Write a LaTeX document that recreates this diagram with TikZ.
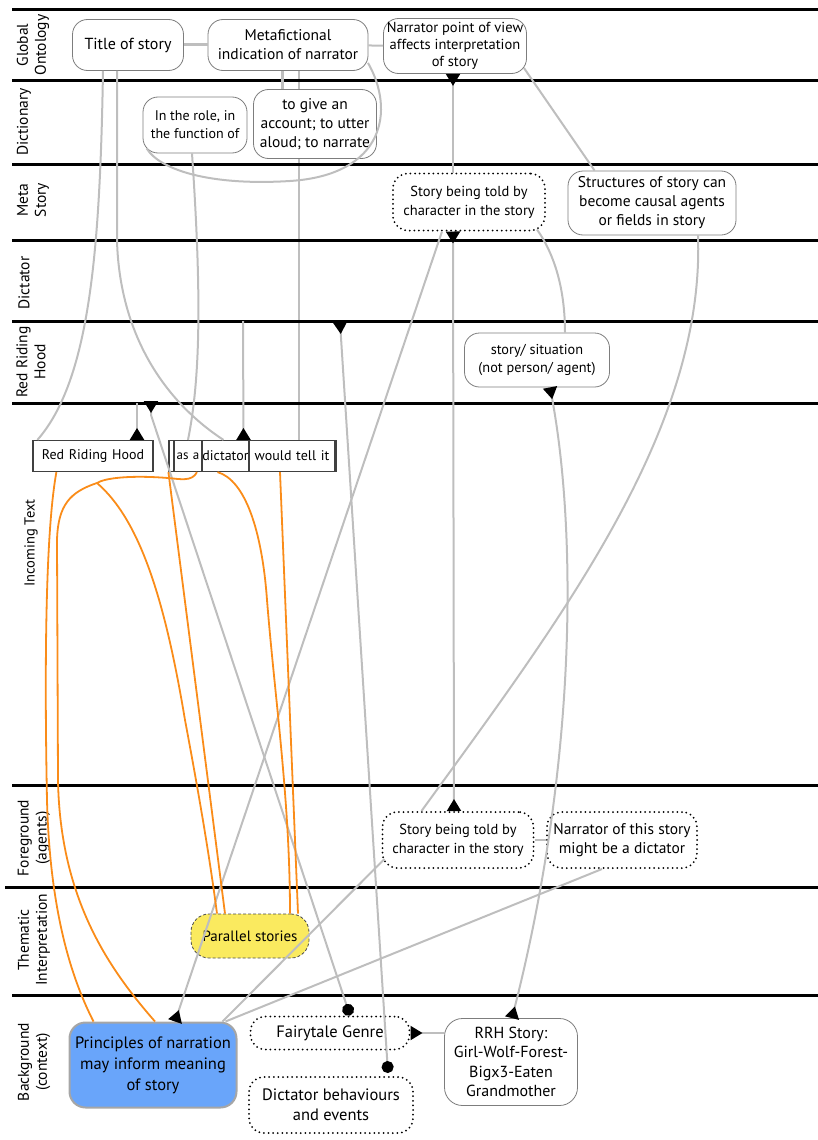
\documentclass[tikz,border=0pt]{standalone}
\usepackage{fontspec}
\setmainfont{PT Sans}
\usetikzlibrary{arrows.meta}
\pgfdeclarelayer{behind}
\pgfsetlayers{behind,main}
\definecolor{linkgray}{RGB}{190,190,190}
\definecolor{boxgray}{RGB}{125,125,125}
\definecolor{rrhorange}{RGB}{250,140,25}
\definecolor{principleblue}{RGB}{105,165,250}
\definecolor{themeyellow}{RGB}{250,234,95}
\tikzstyle{lane} = [line width=3pt, black]
\tikzstyle{lanelabel} = [rotate=90, align=center, font=\fontsize{15.5}{18}\selectfont]
\tikzstyle{concept} = [rectangle, rounded corners=15pt, draw=boxgray, line width=0.8pt, fill=white, align=center, inner sep=1pt, font=\fontsize{15.5}{19}\selectfont]
\tikzstyle{dotbox} = [rectangle, rounded corners=15pt, draw=black, line width=2pt, dash pattern=on 0pt off 4.6pt, line cap=round, fill=white, align=center, inner sep=1pt, font=\fontsize{14.5}{19}\selectfont]
\tikzstyle{word} = [rectangle, draw=black!75, line width=1.2pt, fill=white, minimum height=31pt, inner xsep=0pt, align=center, font=\fontsize{14}{16}\selectfont]
\tikzstyle{themebox} = [rectangle, rounded corners=18pt, draw=black!70, line width=0.8pt, dash pattern=on 3pt off 2pt, fill=themeyellow, align=center, font=\fontsize{15}{18}\selectfont]
\tikzstyle{principlebox} = [rectangle, rounded corners=16pt, draw=gray!70, line width=2pt, fill=principleblue, align=center, font=\fontsize{16.5}{21}\selectfont]
\tikzstyle{link} = [draw=linkgray, line width=2pt]
\tikzstyle{storyline} = [draw=rrhorange, line width=1.8pt]
\tikzstyle{tipstart} = [{Triangle[reversed,length=12pt,width=14pt,color=black]}-]
\tikzstyle{tipend} = [-{Triangle[reversed,length=12pt,width=14pt,color=black]}]
\tikzstyle{tipboth} = [{Triangle[reversed,length=12pt,width=14pt,color=black]}-{Triangle[reversed,length=12pt,width=14pt,color=black]}]
\tikzstyle{tipdot} = [{Triangle[reversed,length=12pt,width=14pt,color=black]}-{Circle[length=12pt,color=black]}]

\begin{document}
\begin{tikzpicture}[x=1pt, y=1pt, node distance=160pt]
\useasboundingbox (0,0) rectangle (818,-1140);

% swim lanes
\draw [lane] (12,-10) -- (818,-10);
\draw [lane] (12,-80) -- (818,-80);
\draw [lane] (12,-164) -- (818,-164);
\draw [lane] (12,-240) -- (818,-240);
\draw [lane] (12,-321) -- (818,-321);
\draw [lane] (12,-403) -- (818,-403);
\draw [lane] (12,-785) -- (818,-785);
\draw [lane] (5,-887) -- (818,-887);
\draw [lane] (12,-995) -- (818,-995);

\node (lglobal) [lanelabel] at (33,-45) {Global\\Ontology};
\node (ldict) [lanelabel] at (24,-122) {Dictionary};
\node (lmeta) [lanelabel] at (33,-200) {Meta\\Story};
\node (ldictator) [lanelabel] at (24,-283) {Dictator};
\node (lrrh) [lanelabel] at (31,-362) {Red Riding\\Hood};
\node (lincoming) [lanelabel, font=\fontsize{14.5}{17}\selectfont] at (31,-543) {Incoming Text};
\node (lfore) [lanelabel] at (34,-838) {Foreground\\(agents)};
\node (ltheme) [lanelabel] at (34,-940) {Thematic\\Interpretation};
\node (lback) [lanelabel] at (34,-1062) {Background\\(context)};

% nodes
\node (title) [concept, minimum width=111pt, minimum height=51pt, font=\fontsize{16}{19}\selectfont] at (128,-45) {Title of story};
\node (metafic) [concept, minimum width=160pt, minimum height=51pt, right of=title] {Metafictional\\indication of narrator};
\node (pov) [concept, minimum width=143pt, minimum height=55pt, right of=metafic, xshift=7pt, yshift=-1pt, font=\fontsize{14.5}{17}\selectfont] {Narrator point of view\\affects interpretation\\of story};

\node (role) [concept, minimum width=104pt, minimum height=56pt, font=\fontsize{14}{18}\selectfont] at (195,-125) {In the role, in\\the function of};
\node (account) [concept, minimum width=123pt, minimum height=69pt, right of=role, xshift=-40pt, yshift=1pt] {to give an\\account; to utter\\aloud; to narrate};

\node (metastory) [dotbox, minimum width=152pt, minimum height=57pt] at (469,-202) {Story being told by\\character in the story};
\node (structures) [concept, minimum width=168pt, minimum height=64pt, right of=metastory, xshift=23pt, yshift=-1pt] {Structures of story can\\become causal agents\\or fields in story};

\node (situation) [concept, minimum width=145pt, minimum height=54pt, font=\fontsize{14.3}{18}\selectfont] at (537,-360) {story/ situation\\(not person/ agent)};

\node (redriding) [word, text width=120pt] at (93,-456) {Red Riding Hood};
\node (incoming) [word, text width=167pt] at (252.5,-456) {};
\node (asa) [word, text width=28pt, font=\fontsize{13}{15}\selectfont] at (188,-456) {as a};
\node (dictator) [word, text width=47pt] at (225.5,-456) {dictator};
\node (tellit) [word, text width=86pt] at (292,-456) {would tell it};

\node (fgstory) [dotbox, minimum width=151pt, minimum height=56pt] at (458,-840) {Story being told by\\character in the story};
\node (nardict) [dotbox, minimum width=150pt, minimum height=56pt, right of=fgstory, xshift=4pt, font=\fontsize{15.5}{19}\selectfont] {Narrator of this story\\might be a dictator};

\node (parallel) [themebox, minimum width=118pt, minimum height=44pt] at (250,-936) {Parallel stories};

\node (principles) [principlebox, minimum width=167pt, minimum height=85pt] at (153,-1065) {Principles of narration\\may inform meaning\\of story};
\node (fairytale) [dotbox, minimum width=159pt, minimum height=33pt, font=\fontsize{16.5}{20}\selectfont] at (330,-1033) {Fairytale Genre};
\node (dictbeh) [dotbox, minimum width=164pt, minimum height=56pt, font=\fontsize{16.5}{20}\selectfont] at (331,-1105) {Dictator behaviours\\and events};
\node (rrh) [concept, minimum width=133pt, minimum height=87pt, rounded corners=18pt, font=\fontsize{16}{19.5}\selectfont] at (511,-1062) {RRH Story:\\Girl-Wolf-Forest-\\Bigx3-Eaten\\Grandmother};

\coordinate (dictlane) at (243,-321);
\coordinate (rrhlane) at (137,-403);
\coordinate (genrelane) at (151,-401);
\coordinate (behaviourlane) at (340,-322);

% gray links
\begin{pgfonlayer}{behind}
\draw [link] ([xshift=11pt]metafic.south) -- ([xshift=7pt]tellit.north);
\end{pgfonlayer}
\draw [link, line width=3pt] (title) -- (metafic);
\draw [link] (metafic) -- (pov);
\draw [link, line width=3pt] ([xshift=-6pt]metafic.south) -- ([xshift=-33pt]account.north);
\draw [link] ([xshift=80pt,yshift=8pt]metafic.south) .. controls (395,-110) and (385,-175) .. (290,-181) .. controls (210,-186) and (160,-170) .. ([xshift=4pt,yshift=5pt]role.south west);
\draw [link, tipstart] ([xshift=-2pt]pov.south) -- ([xshift=-16pt]metastory.north);
\draw [link] ([xshift=-3pt,yshift=6pt]pov.south east) -- ([xshift=27pt]structures.north west);

\draw [link, tipboth] ([xshift=-16pt]metastory.south) -- ([xshift=-4pt]fgstory.north);
\draw [link, tipend] ([xshift=-27pt]metastory.south) -- ([xshift=22pt]principles.north);
\draw [link] ([xshift=68pt,yshift=2pt]metastory.south) .. controls (555,-255) and (565,-290) .. ([xshift=28pt]situation.north);
\draw [link] ([xshift=46pt]structures.south) .. controls (705,-430) and (560,-620) .. ([xshift=40pt]fgstory.north west);
\draw [link, tipboth] ([xshift=13pt]situation.south) .. controls (575,-520) and (580,-750) .. ([xshift=1pt]rrh.north);

\draw [link] ([xshift=-25pt]title.south) .. controls (100,-250) and (90,-380) .. ([xshift=5pt]redriding.north west);
\draw [link] ([xshift=-11pt]title.south) -- ++(0,-170) .. controls +(3,-100) and (170,-405) .. ([xshift=-2pt]dictator.north);
\draw [link] ([xshift=-3pt]role.south) .. controls (202,-300) and (200,-380) .. (asa.north);

\draw [link, tipend] (dictlane) -- ([xshift=18pt]dictator.north);
\draw [link, tipend] (rrhlane) -- ([xshift=44pt]redriding.north);
\draw [link, tipdot] (genrelane) -- ++(0,-14) -- ([xshift=20pt]fairytale.north);
\draw [link, tipdot] (behaviourlane) -- ([xshift=57pt,yshift=3pt]dictbeh.north);

\draw [link] (fgstory) -- (nardict);
\draw [link] ([xshift=3pt,yshift=10pt]fgstory.south west) -- ([xshift=-15pt]principles.north east);
\draw [link] ([xshift=-20pt]nardict.south) -- ([xshift=-12pt]principles.north east);
\draw [link, tipstart] (fairytale.east) -- (fairytale.east -| rrh.west);

% orange story lines
\draw [storyline] ([xshift=24pt]redriding.south west) .. controls (44,-540) and (45,-700) .. (47,-800) .. controls (50,-920) and (75,-985) .. ([xshift=25pt]principles.north west);
\draw [storyline] ([xshift=9pt]asa.south) .. controls (192,-482) and (180,-479) .. (168,-478) .. controls (130,-475) and (105,-478) .. (97,-483) .. controls (70,-492) and (58,-505) .. (57,-540) -- (58,-780) .. controls (60,-900) and (110,-970) .. ([xshift=2pt]principles.north);
\draw [storyline] (97,-483) .. controls (140,-520) and (165,-600) .. (185,-720) .. controls (200,-800) and (210,-860) .. ([xshift=-33pt]parallel.north);
\draw [storyline] ([xshift=-5pt]asa.south west) -- ([xshift=-25pt]parallel.north);
\draw [storyline] ([xshift=-8pt]dictator.south) .. controls (245,-480) and (262,-530) .. (267,-600) .. controls (275,-700) and (290,-800) .. ([xshift=40pt]parallel.north);
\draw [storyline] ([xshift=-12pt]tellit.south) -- ([xshift=48pt]parallel.north);
\end{tikzpicture}
\end{document}
